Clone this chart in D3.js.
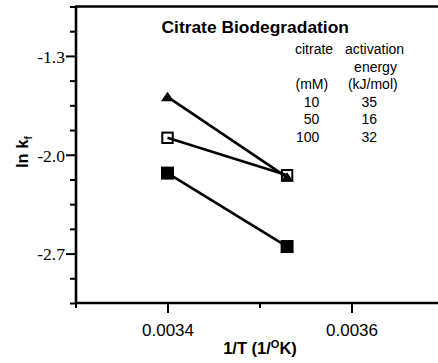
<!DOCTYPE html>
<html><head><meta charset="utf-8">
<script src="https://cdn.jsdelivr.net/npm/d3@7"></script>
<style>body{margin:0;background:#fff}svg{display:block}</style>
</head><body>
<svg id="c" width="438" height="363"></svg>
<script>
// ---- data ----
const invT = [0.0034, 0.00353];
const seriesNames = ["10 mM", "50 mM", "100 mM"];
const seriesSymbols = ["triangle", "openSquare", "filledSquare"];
const lnk10 = [-1.59, -2.16];
const lnk50 = [-1.88, -2.145];
const lnk100 = [-2.13, -2.65];
const citrateConc = ["10", "50", "100"];
const activationEnergy = ["35", "16", "32"];
const xMajorTicks = [0.0034, 0.0036];
const xMinorTicks = [0.0033, 0.0035, 0.0037];
const yMajorTicks = [-1.3, -2.0, -2.7];
const yMinorTicks = [-3.05, -2.875, -2.525, -2.35, -2.175, -1.825, -1.65, -1.475, -1.125, -0.95];

const svg = d3.select("#c");
const x = d3.scaleLinear().domain([0.0033, 0.0037]).range([75.5, 443.5]);
const y = d3.scaleLinear().domain([-3.05, -0.95]).range([303, 6.5]);
const x0 = 76, y0 = 303;

// axes
const gx = svg.append("g").attr("transform", `translate(0,${y0})`);
gx.call(d3.axisBottom(x).tickValues(xMajorTicks).tickSize(10).tickFormat(d => d.toFixed(4)));
gx.append("g").call(d3.axisBottom(x).tickValues(xMinorTicks).tickSize(5).tickFormat(""));
gx.selectAll(".domain").remove();
gx.selectAll("line").attr("stroke", "#000").attr("stroke-width", 2);
gx.selectAll("text").attr("font-family", "Liberation Sans, Arial, sans-serif").attr("font-size", 17).attr("fill", "#000").attr("dy", null).attr("y", 33);

const gy = svg.append("g").attr("transform", `translate(${x0},0)`);
gy.call(d3.axisLeft(y).tickValues(yMajorTicks).tickSize(10).tickFormat(d => d.toFixed(1)));
gy.append("g").call(d3.axisLeft(y).tickValues(yMinorTicks).tickSize(6).tickFormat(""));
gy.selectAll(".domain").remove();
gy.selectAll("line").attr("stroke", "#000").attr("stroke-width", 2);
gy.selectAll("text").attr("font-family", "Liberation Serif, Times New Roman, serif").attr("font-size", 17.5).attr("fill", "#000").attr("x", -11).attr("dy", "0.36em");

// axis lines + top border
svg.append("line").attr("x1", x0).attr("x2", x0).attr("y1", y(-0.95)).attr("y2", y0 + 1).attr("stroke", "#000").attr("stroke-width", 2.6);
svg.append("line").attr("x1", x0 - 1).attr("x2", 438).attr("y1", y0).attr("y2", y0).attr("stroke", "#000").attr("stroke-width", 2.6);
svg.append("line").attr("x1", x0 - 1).attr("x2", 438).attr("y1", y(-0.95)).attr("y2", y(-0.95)).attr("stroke", "#000").attr("stroke-width", 2.6);

// series
const allSeries = [lnk10, lnk50, lnk100].map((vals, i) => ({
  name: seriesNames[i], sym: seriesSymbols[i],
  pts: invT.map((t, j) => ({ t, v: vals[j] }))
}));
const line = d3.line().x(d => x(d.t)).y(d => y(d.v));
svg.selectAll(".ser").data(allSeries).join("path").attr("class", "ser")
  .attr("d", d => line(d.pts)).attr("fill", "none").attr("stroke", "#000").attr("stroke-width", 2.6);

function drawMarker(g, sym, cx, cy) {
  if (sym === "triangle") {
    g.append("path").attr("d", `M${cx},${cy - 5} L${cx + 6.5},${cy + 4.5} L${cx - 6.5},${cy + 4.5} Z`).attr("fill", "#000");
  } else if (sym === "openSquare") {
    g.append("rect").attr("x", cx - 5.2).attr("y", cy - 5.2).attr("width", 10.4).attr("height", 10.4)
      .attr("fill", "none").attr("stroke", "#000").attr("stroke-width", 2);
  } else {
    g.append("rect").attr("x", cx - 6.5).attr("y", cy - 6.5).attr("width", 13).attr("height", 13).attr("fill", "#000");
  }
}
const mg = svg.append("g");
allSeries.forEach(s => s.pts.forEach(p => drawMarker(mg, s.sym, x(p.t), y(p.v))));

// title
const sans = "Liberation Sans, Arial, sans-serif";
svg.append("text").attr("x", 161.5).attr("y", 32.5).attr("font-family", sans).attr("font-weight", "bold")
  .attr("font-size", 17.4).text("Citrate Biodegradation");

// legend table
const lg = svg.append("g").attr("font-family", sans).attr("font-size", 14).attr("fill", "#000");
lg.append("text").attr("x", 295).attr("y", 54.3).text("citrate");
lg.append("text").attr("x", 374.5).attr("y", 54.3).attr("text-anchor", "middle").text("activation");
lg.append("text").attr("x", 375.5).attr("y", 71.7).attr("text-anchor", "middle").text("energy");
lg.append("text").attr("x", 295.5).attr("y", 89.3).text("(mM)");
lg.append("text").attr("x", 372.8).attr("y", 89.3).attr("text-anchor", "middle").text("(kJ/mol)");
const rowY = [106.7, 124.3, 141.7];
citrateConc.forEach((c, i) => {
  lg.append("text").attr("x", 319.3).attr("y", rowY[i]).attr("text-anchor", "end").text(c);
  lg.append("text").attr("x", 369.2).attr("y", rowY[i]).attr("text-anchor", "middle").text(activationEnergy[i]);
});

// axis titles
const xl = svg.append("text").attr("x", 260).attr("y", 354).attr("text-anchor", "middle")
  .attr("font-family", sans).attr("font-weight", "bold").attr("font-size", 16.5);
xl.append("tspan").text("1/T (1/");
xl.append("tspan").attr("font-size", 11).attr("dy", -6).text("O");
xl.append("tspan").attr("dy", 6).text("K)");

const yl = svg.append("text").attr("transform", "translate(28,168) rotate(-90)")
  .attr("font-family", sans).attr("font-weight", "bold").attr("font-size", 16.5);
yl.append("tspan").text("ln k");
yl.append("tspan").attr("font-size", 10).attr("dy", 4).text("f");
</script>
</body></html>
